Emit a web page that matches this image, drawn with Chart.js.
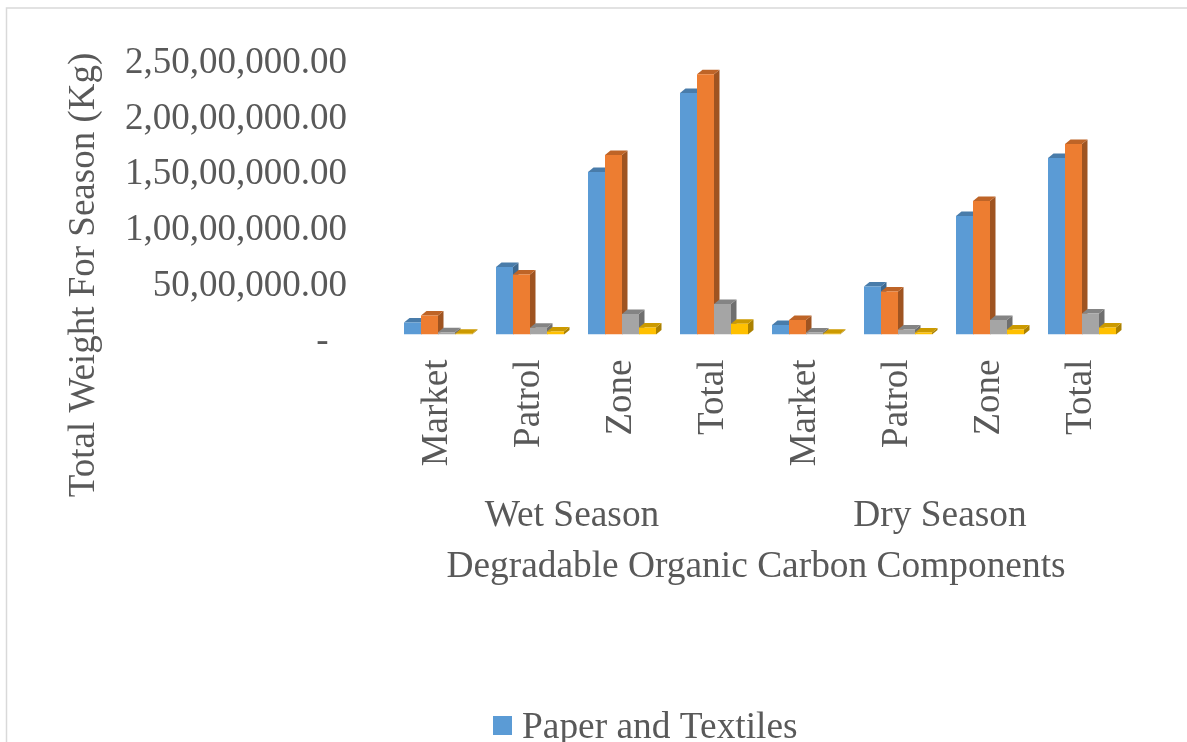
<!DOCTYPE html>
<html>
<head>
<meta charset="utf-8">
<style>
  html, body { margin: 0; padding: 0; background: #ffffff; overflow: hidden; }
  #wrap { position: absolute; left: 0; top: 0; width: 1187px; height: 742px; }
</style>
<script src="https://cdn.jsdelivr.net/npm/chart.js@4/dist/chart.umd.min.js"></script>
</head>
<body>
<div id="wrap"><canvas id="chart" width="1187" height="742"></canvas></div>
<script>
// Waste composition by collection point, for each season
const categories = ["Market", "Patrol", "Zone", "Total", "Market", "Patrol", "Zone", "Total"];
const seasons = ["Wet Season", "Dry Season"];
const yTickValues = [0, 5000000, 10000000, 15000000, 20000000, 25000000];
const yTickLabels = ["-  ", "50,00,000.00", "1,00,00,000.00", "1,50,00,000.00", "2,00,00,000.00", "2,50,00,000.00"];

const paperAndTextiles = [1080000, 6040000, 14560000, 21630000, 850000, 4300000, 10620000, 15820000];
const series2 = [1700000, 5380000, 16080000, 23330000, 1300000, 3850000, 11960000, 17070000];
const series3 = [200000, 600000, 1830000, 2730000, 180000, 450000, 1300000, 1880000];
const series4 = [60000, 270000, 630000, 960000, 60000, 180000, 450000, 630000];

const xTitle = "Degradable Organic Carbon Components";
const yTitle = "Total Weight For Season (Kg)";

const TEXT = "#595959";
const FONT = "Liberation Serif";
const SIZE = 37.4;
const Y_SIZE = 37;
const DEPTH_X = 5.5;
const DEPTH_Y = 4.5;

function shade(hex, k) {
  const n = parseInt(hex.slice(1), 16);
  const c = [n >> 16, (n >> 8) & 255, n & 255].map(v => Math.round(v * k));
  return `rgb(${c[0]},${c[1]},${c[2]})`;
}

// Side and top faces give each column its extruded look. They are painted
// series by series from the left, before any front face goes on top.
const extrude = {
  id: "extrude",
  beforeDatasetsDraw(chart) {
    const { ctx } = chart;
    chart.data.datasets.forEach((dataset, index) => {
      const color = dataset.backgroundColor;
      chart.getDatasetMeta(index).data.forEach(bar => {
        const p = bar.getProps(["x", "y", "base", "width"], true);
        const l = p.x - p.width / 2, r = p.x + p.width / 2;
        ctx.fillStyle = shade(color, 0.67);
        ctx.beginPath();
        ctx.moveTo(r, p.base);
        ctx.lineTo(r + DEPTH_X, p.base - DEPTH_Y);
        ctx.lineTo(r + DEPTH_X, p.y - DEPTH_Y);
        ctx.lineTo(r, p.y);
        ctx.closePath();
        ctx.fill();
        ctx.fillStyle = shade(color, 0.8);
        ctx.beginPath();
        ctx.moveTo(l, p.y);
        ctx.lineTo(l + DEPTH_X, p.y - DEPTH_Y);
        ctx.lineTo(r + DEPTH_X, p.y - DEPTH_Y);
        ctx.lineTo(r, p.y);
        ctx.closePath();
        ctx.fill();
      });
    });
  }
};

// Chart frame, axis titles, season captions and the legend entry
const annotations = {
  id: "annotations",
  beforeDraw(chart) {
    const { ctx } = chart;
    ctx.save();
    ctx.strokeStyle = "#D9D9D9";
    ctx.lineWidth = 1.5;
    ctx.beginPath();
    ctx.moveTo(6.5, 742);
    ctx.lineTo(6.5, 8);
    ctx.lineTo(1187, 8);
    ctx.stroke();
    ctx.restore();
  },
  afterDraw(chart) {
    const { ctx, scales } = chart;
    const x = scales.x;
    const shift = -4;
    ctx.save();
    ctx.fillStyle = TEXT;
    ctx.font = `${SIZE}px "${FONT}"`;
    ctx.textAlign = "center";
    ctx.textBaseline = "middle";

    const wetMid = (x.getPixelForTick(1) + x.getPixelForTick(2)) / 2;
    const dryMid = (x.getPixelForTick(5) + x.getPixelForTick(6)) / 2;
    ctx.fillText(seasons[0], wetMid + shift, 516);
    ctx.fillText(seasons[1], dryMid + shift, 516);
    ctx.fillText(xTitle, (x.left + x.right) / 2 + shift, 567);

    ctx.save();
    ctx.font = `${Y_SIZE}px "${FONT}"`;
    ctx.translate(84, 275);
    ctx.rotate(-Math.PI / 2);
    ctx.fillText(yTitle, 0, 0);
    ctx.restore();

    const first = chart.data.datasets[0];
    ctx.fillStyle = first.backgroundColor;
    ctx.fillRect(493, 716, 19, 19);
    ctx.fillStyle = TEXT;
    ctx.textAlign = "left";
    ctx.fillText(first.label, 522, 728.5);
    ctx.restore();
  }
};

new Chart(document.getElementById("chart"), {
  type: "bar",
  data: {
    labels: categories,
    datasets: [
      { label: "Paper and Textiles", data: paperAndTextiles, backgroundColor: "#5B9BD5" },
      { label: "Series 2", data: series2, backgroundColor: "#ED7D31" },
      { label: "Series 3", data: series3, backgroundColor: "#A5A5A5" },
      { label: "Series 4", data: series4, backgroundColor: "#FFC000" }
    ]
  },
  options: {
    responsive: false,
    animation: false,
    layout: { padding: { top: 55.5, right: 59, left: 0, bottom: 0 } },
    datasets: { bar: { barPercentage: 1, categoryPercentage: 0.739 } },
    plugins: { legend: { display: false }, tooltip: { enabled: false }, title: { display: false } },
    scales: {
      x: {
        type: "category",
        grid: { display: false, drawTicks: false },
        border: { display: false },
        afterFit(s) { s.height = 742 - 334.5; s.paddingLeft = 0; s.paddingRight = 0; },
        ticks: {
          autoSkip: false,
          minRotation: 90,
          maxRotation: 90,
          padding: 25,
          labelOffset: -1,
          color: TEXT,
          font: { family: FONT, size: Y_SIZE }
        }
      },
      y: {
        min: 0,
        max: 25000000,
        grid: { display: false, drawTicks: false },
        border: { display: false },
        afterFit(s) { s.width = 392; s.paddingTop = 0; s.paddingBottom = 0; },
        afterBuildTicks(s) { s.ticks = yTickValues.map(value => ({ value })); },
        ticks: {
          padding: 45,
          labelOffset: 7.5,
          color: TEXT,
          font: { family: FONT, size: Y_SIZE },
          callback(value) { return yTickLabels[yTickValues.indexOf(value)]; }
        }
      }
    }
  },
  plugins: [extrude, annotations]
});
</script>
</body>
</html>
